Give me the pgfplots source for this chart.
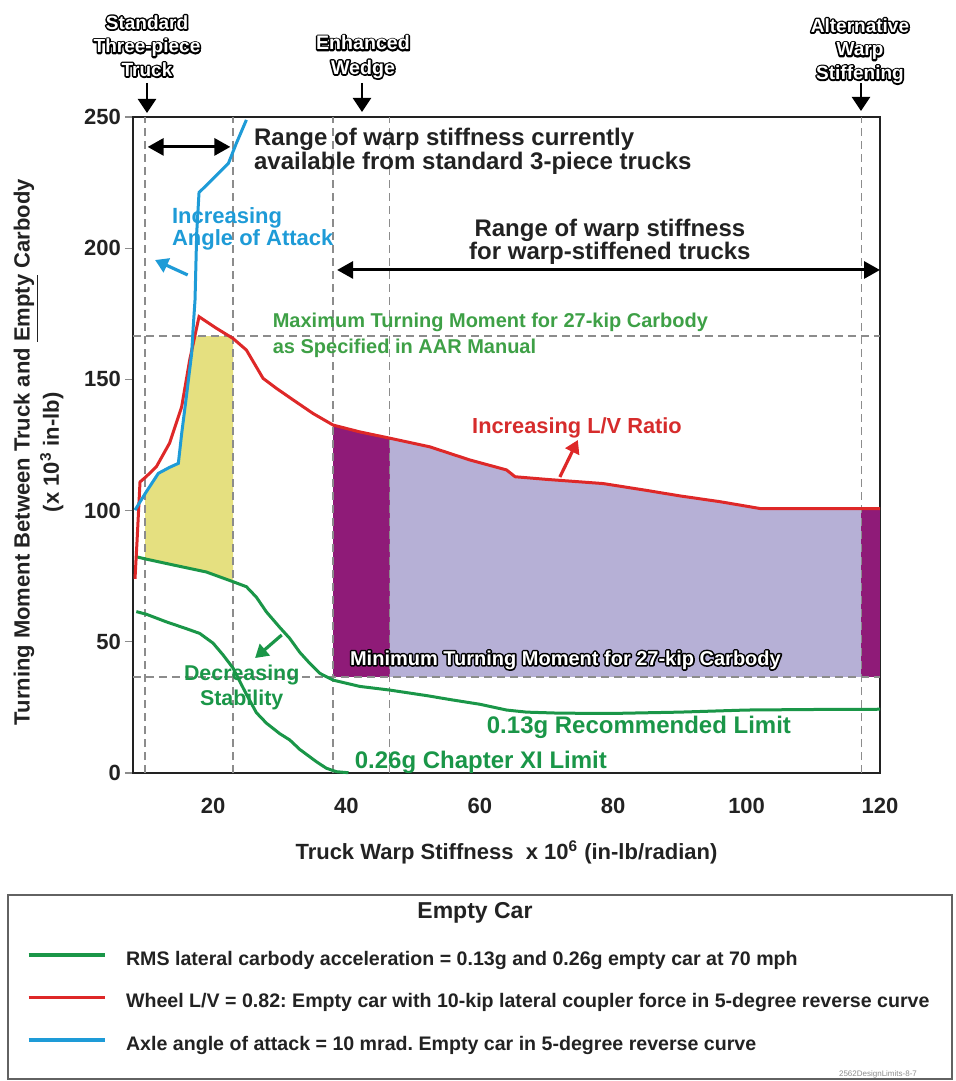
\documentclass[border=0pt]{standalone}
\usepackage{pgfplots}
\pgfplotsset{compat=1.18}
\usepackage{fontspec}
\setmainfont{Liberation Sans}
\usetikzlibrary{arrows.meta}

\definecolor{cGreen}{RGB}{26,150,72}
\definecolor{cGreenText}{RGB}{62,160,70}
\definecolor{cRed}{RGB}{222,40,40}
\definecolor{cRedText}{RGB}{214,44,44}
\definecolor{cBlue}{RGB}{30,155,215}
\definecolor{cYellow}{RGB}{229,224,128}
\definecolor{cPurple}{RGB}{143,27,120}
\definecolor{cLav}{RGB}{182,176,214}
\definecolor{cGrid}{RGB}{140,140,140}
\definecolor{cAxis}{RGB}{34,34,34}

\newcommand{\fsz}[2]{\fontsize{#1}{#2}\selectfont}
% thick black glyph outline (stroke-only text rendering), white lettering laid on top
\newcommand{\rimon}{\special{pdf:literal direct 1 Tr 1.6 w 1 j 1 J 0 0 0 RG}}
\newcommand{\rimoff}{\special{pdf:literal direct 0 Tr}}
\newcommand{\rimtext}[3]{%
  \node[#1, text=black] at (#2) {\rimon #3\rimoff};
  \node[#1, text=white] at (#2) {#3};}

\tikzset{
  refline/.style={cGrid, line width=0.7pt, dash pattern=on 4pt off 2.5pt},
  dbl/.style={line width=1.5pt, {Triangle[length=8pt,width=8.5pt]}-{Triangle[length=8pt,width=8.5pt]}},
}

\begin{document}
\frenchspacing
\begin{tikzpicture}
\useasboundingbox (-66.5pt,-154pt) rectangle (411pt,386.5pt);
\begin{axis}[
  at={(0pt,0pt)}, anchor=south west,
  scale only axis, width=373.5pt, height=328pt,
  xmin=8, xmax=120, ymin=0, ymax=250,
  xtick={20,40,60,80,100,120},
  ytick={0,50,100,150,200,250},
  xtick pos=bottom, ytick pos=left,
  axis line style={draw=cAxis, line width=1.2pt},
  tick align=outside, major tick length=4pt,
  xtick style={draw=none},
  ytick style={draw=cGrid, line width=0.6pt},
  /pgf/number format/assume math mode=true,
  ticklabel style={font=\fsz{11}{13}\bfseries, text=cAxis},
  xticklabel style={yshift=-5pt},
  yticklabel style={xshift=1.5pt},
  xlabel={Truck Warp Stiffness\ \ x 10\textsuperscript{6} (in-lb/radian)},
  ylabel={Turning Moment Between Truck and \underline{Empty} Carbody\\(x 10\textsuperscript{3} in-lb)},
  label style={font=\fsz{11}{13.5}\bfseries, text=cAxis},
  xlabel style={at={(axis description cs:0.5,-0.1204)}, anchor=center},
  ylabel style={at={(axis description cs:-0.1265,0.489)}, anchor=center, align=center},
  clip=false,
  legend style={at={(axis description cs:-0.1419,-0.2683)}, anchor=north west,
    draw=none, fill=none, inner sep=0pt, outer sep=0pt, row sep=11.25pt,
    font=\fsz{9.8}{11}\bfseries, text=cAxis,
    nodes={inner sep=0pt, text height=8pt, text depth=2pt}},
  legend cell align=left,
  legend image code/.code={\draw[#1, line width=1.6pt] (0pt,2pt) -- (38pt,2pt); \path (48pt,0pt);},
]
% shaded regions
\addplot[fill=cYellow, draw=none, forget plot] coordinates {
  (9.8,81.6) (14,79.3) (19,76.6) (23,72.9) (23,166.5) (16.95,166.5) (16.8,160)
  (16.0,143.4) (15.3,129.4) (14.8,118) (13.5,116.5) (11.8,114.2) (9.8,106.5)} -- cycle;
\addplot[fill=cPurple, draw=none, forget plot] coordinates {
  (38,36.6) (46.5,36.6) (46.5,127.6) (42,130) (38,132.6)} -- cycle;
\addplot[fill=cLav, draw=none, forget plot] coordinates {
  (46.5,36.6) (117.2,36.6) (117.2,100.8) (102,100.8) (96,103.4) (90,105.6)
  (85,107.7) (78.5,110.3) (70,111.9) (65.3,112.9) (64,115.5) (58.5,119.3)
  (52.5,124.3) (46.5,127.6)} -- cycle;
\addplot[fill=cPurple, draw=none, forget plot] coordinates {
  (117.2,36.6) (120,36.6) (120,100.8) (117.2,100.8)} -- cycle;

% reference lines
\addplot[refline, forget plot] coordinates {(9.8,0) (9.8,250)};
\addplot[refline, forget plot] coordinates {(23,0) (23,250)};
\addplot[refline, forget plot] coordinates {(38,0) (38,250)};
\addplot[refline, forget plot] coordinates {(46.5,0) (46.5,250)};
\addplot[refline, forget plot] coordinates {(117.2,0) (117.2,250)};
\addplot[refline, forget plot] coordinates {(8,166.5) (120,166.5)};
\addplot[refline, forget plot] coordinates {(8,36.6) (120,36.6)};

% RMS lateral carbody acceleration 0.13g
\addplot[cGreen, line width=1.5pt] coordinates {
  (8.5,82.4) (10,81.5) (14,79.3) (19,76.6) (23,72.9) (25,71) (26.5,67) (28,61.4)
  (30,55.5) (31.5,51.3) (33,46) (34.5,41.8) (36,38) (38,35.4) (42,33) (46.5,31.6)
  (52,29.5) (56,27.8) (60,26.2) (64,24) (67,23.2) (72,22.8) (80,22.7) (90,23.2)
  (100,24) (110,24.2) (120,24.3)};
\addlegendentry{RMS lateral carbody acceleration = 0.13g and 0.26g empty car at 70 mph}
% RMS lateral carbody acceleration 0.26g
\addplot[cGreen, line width=1.5pt, forget plot] coordinates {
  (8.5,61.5) (10,60.5) (13,57.6) (16,55) (18,53.2) (20,49.5) (21.5,45) (23,40)
  (24,35) (25,30) (26.5,23) (28,19) (30,15) (31.5,12.6) (33,9) (35.5,4.3)
  (37,1.8) (38.5,0.5) (40.3,0.1)};
% Wheel L/V
\addplot[cRed, line width=1.5pt] coordinates {
  (8.3,74) (8.6,88) (9.05,110.9) (10,113) (11.5,116.7) (13.5,125.8) (15.3,139.6)
  (16.5,157.4) (17.9,173.9) (20.5,169.5) (23,165.6) (25,161.2) (27.5,150.4)
  (29.5,146.6) (32,142.2) (35,137) (38,132.6) (42,130) (46.5,127.6) (52.5,124.3)
  (58.5,119.3) (64,115.5) (65.3,112.9) (70,111.9) (78.5,110.3) (85,107.7)
  (90,105.6) (96,103.4) (102,100.8) (120,100.8)};
\addlegendentry{Wheel L/V = 0.82: Empty car with 10-kip lateral coupler force in 5-degree reverse curve}
% Axle angle of attack
\addplot[cBlue, line width=1.5pt] coordinates {
  (8.3,100.2) (10,107.2) (11.8,114.2) (13.5,116.5) (14.8,118) (15.3,129.4)
  (16.0,143.4) (16.8,160) (17.0,168.8) (17.3,180.3) (17.55,205.7) (17.9,221.2)
  (22.3,232.3) (23.5,240) (25.0,248.9)};
\addlegendentry{Axle angle of attack = 10 mrad. Empty car in 5-degree reverse curve}

% range arrows
\draw[dbl] (axis cs:10.2,238.6) -- (axis cs:22.6,238.6);
\draw[dbl] (axis cs:38.6,191.7) -- (axis cs:120,191.7);
\draw[cBlue, line width=1.6pt, -{Triangle[length=6.5pt,width=7.5pt]}] (axis cs:16.2,189.8) -- (axis cs:11.3,195.5);
\draw[cRed, line width=1.6pt, -{Triangle[length=6.5pt,width=7.5pt]}] (axis cs:72.0,112.8) -- (axis cs:74.7,126.9);
\draw[cGreen, line width=1.6pt, -{Triangle[length=6.5pt,width=7.5pt]}] (axis cs:30.3,52.6) -- (axis cs:26.3,43.8);

% annotations
\node[anchor=west, align=left, font=\fsz{12}{11}\bfseries, text=cAxis] at (axis cs:25.1,237.0)
  {Range of warp stiffness currently\\available from standard 3-piece trucks};
\node[anchor=center, align=center, font=\fsz{12}{11.5}\bfseries, text=cAxis] at (axis cs:79.5,202.6)
  {Range of warp stiffness\\for warp-stiffened trucks};
\node[anchor=west, align=left, font=\fsz{11}{11}\bfseries, text=cBlue] at (axis cs:12.8,207.3)
  {Increasing\\Angle of Attack};
\node[anchor=west, align=left, font=\fsz{10}{13}\bfseries, text=cGreenText] at (axis cs:27.9,166.9)
  {Maximum Turning Moment for 27-kip Carbody\\as Specified in AAR Manual};
\node[anchor=west, font=\fsz{10.9}{12}\bfseries, text=cRedText] at (axis cs:57.8,131.5)
  {Increasing L/V Ratio};
\node[anchor=center, align=center, font=\fsz{10.7}{12.5}\bfseries, text=cGreen] at (axis cs:24.3,32.6)
  {Decreasing\\Stability};
\node[anchor=west, font=\fsz{12}{12}\bfseries, text=cGreen] at (axis cs:60.0,17.5)
  {0.13g Recommended Limit};
\node[anchor=west, font=\fsz{12}{12}\bfseries, text=cGreen] at (axis cs:40.2,4.2)
  {0.26g Chapter XI Limit};

% legend heading and frame
\node[font=\fsz{11.5}{13}\bfseries, text=cAxis] at (axis description cs:0.4578,-0.2134) {Empty Car};
\node[font=\fsz{4}{4}, text=cGrid, anchor=center] at (axis description cs:0.9973,-0.4588) {2562DesignLimits-8-7};
\end{axis}

\draw[cGrid!70!black, line width=0.9pt] (-62.5pt,-61pt) rectangle (409.5pt,-153pt);

% truck design markers above the frame
\rimtext{align=center, font=\fsz{9.5}{11.8}\bfseries}{7pt,363.5pt}{Standard\\Three-piece\\Truck}
\rimtext{align=center, font=\fsz{9.8}{12.2}\bfseries}{115pt,358pt}{Enhanced\\Wedge}
\rimtext{align=center, font=\fsz{9.5}{11.8}\bfseries}{363.5pt,361pt}{Alternative\\Warp\\Stiffening}
\rimtext{anchor=west, font=\fsz{10}{12}\bfseries}{105pt,56.5pt}{Minimum Turning Moment for 27-kip Carbody}
\draw[line width=1.1pt, -{Triangle[length=7pt,width=9pt]}] (7pt,345pt) -- (7pt,330pt);
\draw[line width=1.1pt, -{Triangle[length=7pt,width=9pt]}] (114.5pt,345pt) -- (114.5pt,330.5pt);
\draw[line width=1.1pt, -{Triangle[length=7pt,width=9pt]}] (364pt,345pt) -- (364pt,331pt);
\end{tikzpicture}
\end{document}
